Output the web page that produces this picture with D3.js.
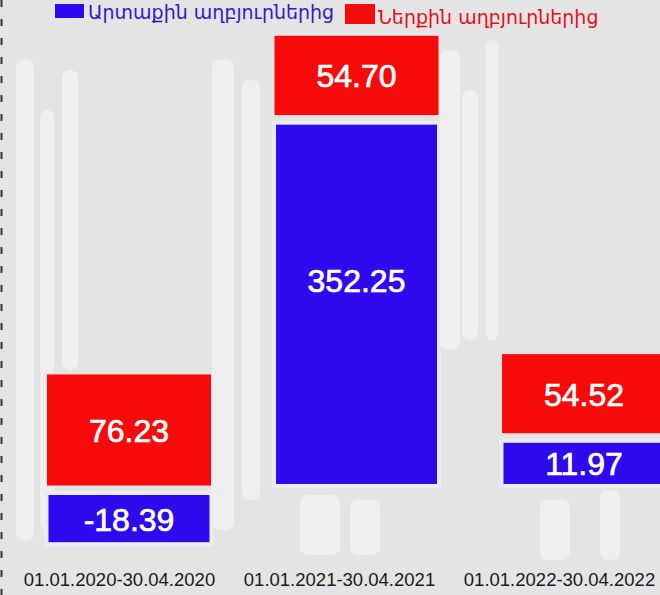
<!DOCTYPE html>
<html>
<head>
<meta charset="utf-8">
<script src="https://cdn.jsdelivr.net/npm/d3@7"></script>
<style>
  body { margin: 0; background: #fff; }
  svg { display: block; }
</style>
</head>
<body>
<script>
// data
var periods = ["01.01.2020-30.04.2020", "01.01.2021-30.04.2021", "01.01.2022-30.04.2022"];
var externalValues = [-18.39, 352.25, 11.97];
var internalValues = [76.23, 54.70, 54.52];
var seriesNames = ["Արտաքին աղբյուրներից", "Ներքին աղբյուրներից"];
var seriesColors = ["#300aee", "#f70a0a"];
var legendTextColors = ["#3418c8", "#e5101c"];

var svgWidth = 660;
var svgHeight = 595;
var baseline = 486;
var gap = 7;
var barWidth = 165;

var svg = d3.select("body")
    .append("svg")
    .attr("width", svgWidth)
    .attr("height", svgHeight);

// faint grey backdrop (stand-in for the photo behind the chart)
var bg = svg.append("g");
bg.append("rect").attr("width", svgWidth).attr("height", svgHeight).attr("fill", "#e4e4e4");
var streaks = [
    [16, 60, 18, 480], [40, 110, 14, 420], [62, 70, 16, 300], [212, 60, 22, 470], [242, 80, 18, 420],
    [440, 50, 20, 300], [462, 90, 16, 250], [485, 40, 14, 300], [300, 495, 40, 60], [350, 500, 30, 55],
    [540, 500, 30, 60], [600, 490, 20, 70]
];
bg.selectAll(".streak")
    .data(streaks)
    .enter()
    .append("rect")
    .attr("class", "streak")
    .attr("x", d => d[0]).attr("y", d => d[1])
    .attr("width", d => d[2]).attr("height", d => d[3])
    .attr("rx", 8)
    .attr("fill", "#f7f7f7")
    .attr("opacity", 0.55);

// left dashed axis line
svg.append("line")
    .attr("x1", 1.5).attr("x2", 1.5)
    .attr("y1", 0).attr("y2", svgHeight)
    .attr("stroke", "#333")
    .attr("stroke-width", 2)
    .attr("stroke-dasharray", "7,12");

// scales
var x = d3.scalePoint()
    .domain(periods)
    .range([119, 559]);

var xBar = d3.scalePoint()
    .domain(periods)
    .range([129, 584]);

// segment heights: red is linear, blue carries a minimum height
var hInternal = d3.scaleLinear().domain([0, 100]).range([0, 147]);
var hExternal = d3.scaleLinear().domain([0, 400]).range([34, 408]);

var rows = periods.map((p, i) => {
    var ext = externalValues[i];
    var inn = internalValues[i];
    var hb = hExternal(Math.abs(ext));
    var hr = hInternal(inn);
    var cx = xBar(p);
    var blueTop, redTop;
    if (ext < 0) {
        redTop = baseline - hr;
        blueTop = baseline + gap;
    } else {
        blueTop = baseline - hb;
        redTop = blueTop - gap - hr;
    }
    return { period: p, ext: ext, inn: inn, cx: cx, hb: hb, hr: hr, blueTop: blueTop, redTop: redTop };
});

var chartGroup = svg.append("g");

// blue (external) segments with light border
chartGroup.selectAll(".ext")
    .data(rows)
    .enter()
    .append("rect")
    .attr("class", "ext")
    .attr("x", d => d.cx - barWidth / 2)
    .attr("y", d => d.blueTop)
    .attr("width", barWidth)
    .attr("height", d => d.hb)
    .attr("fill", seriesColors[0])
    .attr("stroke", "#ebebf4")
    .attr("stroke-width", 4);

// red (internal) segments
chartGroup.selectAll(".inn")
    .data(rows)
    .enter()
    .append("rect")
    .attr("class", "inn")
    .attr("x", d => d.cx - barWidth / 2)
    .attr("y", d => d.redTop)
    .attr("width", barWidth)
    .attr("height", d => d.hr)
    .attr("fill", seriesColors[1])
    .attr("stroke", "#f6e4e4")
    .attr("stroke-width", 1);

// value labels
var labelStyle = sel => sel
    .attr("text-anchor", "middle")
    .attr("dominant-baseline", "central")
    .attr("font-family", "'Liberation Sans', Arial, sans-serif")
    .attr("font-size", 32)
    .attr("fill", "#fff")
    .attr("stroke", "#fff")
    .attr("stroke-width", 0.7);

chartGroup.selectAll(".extLabel")
    .data(rows)
    .enter()
    .append("text")
    .attr("class", "extLabel")
    .attr("x", d => d.cx)
    .attr("y", d => d.blueTop + Math.min(d.hb / 2, 157) + 1)
    .text(d => d.ext.toFixed(2))
    .call(labelStyle);

chartGroup.selectAll(".innLabel")
    .data(rows)
    .enter()
    .append("text")
    .attr("class", "innLabel")
    .attr("x", d => d.cx)
    .attr("y", d => d.redTop + d.hr / 2 + 1)
    .text(d => d.inn.toFixed(2))
    .call(labelStyle);

// category labels
var xAxis = d3.axisBottom(x).tickSize(0).tickPadding(0);
var xAxisGroup = svg.append("g")
    .attr("transform", "translate(0, 573)")
    .call(xAxis);
xAxisGroup.select(".domain").remove();
xAxisGroup.selectAll("text")
    .attr("font-family", "'Liberation Sans', Arial, sans-serif")
    .attr("font-size", 18.5)
    .attr("fill", "#1a1a1a")
    .attr("dy", "0.71em");

// legend
var legend = [
    { name: seriesNames[0], color: seriesColors[0], text: legendTextColors[0], rx: 55, ry: 4, rw: 29, rh: 14, tx: 88, ty: 19 },
    { name: seriesNames[1], color: seriesColors[1], text: legendTextColors[1], rx: 345, ry: 4, rw: 30, rh: 20, tx: 378, ty: 24 }
];
var legendGroup = svg.append("g");
legend.forEach(l => {
    legendGroup.append("rect")
        .attr("x", l.rx).attr("y", l.ry)
        .attr("width", l.rw).attr("height", l.rh)
        .attr("fill", l.color);
    legendGroup.append("text")
        .attr("x", l.tx).attr("y", l.ty)
        .attr("font-family", "'DejaVu Sans', sans-serif")
        .attr("font-size", 19)
        .attr("fill", l.text)
        .text(l.name);
});
</script>
</body>
</html>
